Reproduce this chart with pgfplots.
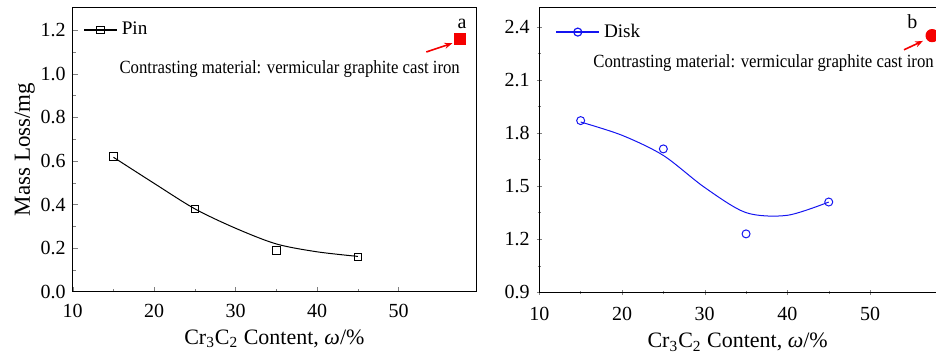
\documentclass[border=0pt]{standalone}
\usepackage{fontspec}
\setmainfont{Liberation Serif}
\newfontfamily\condensed[FakeStretch=0.9]{Liberation Serif}
\usepackage{pgfplots}
\pgfplotsset{compat=1.18}
\usetikzlibrary{arrows.meta}
\definecolor{myblue}{RGB}{20,20,240}
\definecolor{myred}{RGB}{245,0,0}
\pgfplotsset{
  common/.style={
    scale only axis,
    anchor=south west,
    xmin=10, 
    xtick={10,20,30,40,50},
    minor x tick num=1,
    minor y tick num=1,
    xtick pos=lower, ytick pos=left,
    tick align=inside,
    major tick length=2.5pt,
    minor tick length=1.5pt,
    /pgf/number format/assume math mode=true,
    tick label style={font=\fontsize{10}{12}\selectfont},
    xlabel={Cr\textsubscript{3}C\textsubscript{2} Content, \textit{ω}/\%},
    xticklabel style={yshift=-2.5pt},
    xlabel style={font=\fontsize{11}{13}\selectfont, yshift=0.5pt},
    legend style={draw=none, fill=none, inner sep=0pt, font=\fontsize{9.6}{11}\selectfont, legend cell align=left},
    every axis plot/.append style={line width=0.6pt},
  }
}
\begin{document}
\begin{tikzpicture}
\begin{axis}[common,
  at={(36.35pt,33.15pt)}, width=201.65pt, height=142.2pt,
  xmax=59.5, ymin=0, ymax=1.305,
  ytick={0,0.2,0.4,0.6,0.8,1.0,1.2},
  yticklabel style={/pgf/number format/.cd,fixed,fixed zerofill,precision=1},
  ylabel={Mass Loss/mg},
  ylabel style={font=\fontsize{11.5}{13}\selectfont, yshift=-4pt},
  legend style={at={(0.026,0.92)}, anchor=west},
  legend image code/.code={\draw[mark repeat=2,mark phase=2,#1] plot coordinates {(0cm,0cm) (0.29cm,0cm) (0.58cm,0cm)};},
]
\addlegendimage{black, line width=0.6pt, mark=square, mark size=1.9pt, mark options={solid, fill=white}}
\addlegendentry{Pin}
\addplot[black, line width=0.5pt, smooth, forget plot] coordinates {
(15,0.617) (20,0.497) (25,0.380) (30,0.291) (35,0.219) (40,0.183) (45,0.162)};
\addplot[only marks, black, mark=square, mark size=1.9pt, line width=0.5pt, forget plot] coordinates {
(15,0.62) (25,0.38) (35,0.19) (45,0.16)};
\addplot[only marks, myred, mark=square*, mark size=2.8pt, forget plot] coordinates {(57.5,1.16)};
\draw[myred, line width=0.8pt, -{Stealth[length=4pt,width=3pt]}] (axis cs:53.4,1.10) -- (axis cs:56.6,1.14);
\node[font=\fontsize{10}{12}\selectfont] at (axis cs:57.8,1.23) {a};
\node[anchor=west, inner sep=0pt, font=\condensed\fontsize{9.3}{11}\selectfont] at (axis cs:15.7,1.02) {Contrasting material: vermicular graphite cast iron};
\end{axis}

\begin{axis}[common,
  at={(269.65pt,32.85pt)}, width=198.35pt, height=142.5pt,
  xmax=57.97, ymin=0.9, ymax=2.51,
  ytick={0.9,1.2,1.5,1.8,2.1,2.4},
  yticklabel style={/pgf/number format/.cd,fixed,fixed zerofill,precision=1},
  axis x line=bottom, axis y line=left,
  axis line style={-},
  legend style={at={(0.04,0.913)}, anchor=west},
  legend image code/.code={\draw[mark repeat=2,mark phase=2,#1] plot coordinates {(0cm,0cm) (0.38cm,0cm) (0.76cm,0cm)};},
]
\addlegendimage{myblue, line width=0.6pt, mark=o, mark size=2pt, mark options={solid}}
\addlegendentry{Disk}
\addplot[myblue, line width=0.5pt, smooth, forget plot] coordinates {
(15,1.862) (20,1.787) (25,1.673) (30,1.492) (35,1.350) (40,1.335) (45,1.41)};
\addplot[only marks, myblue, mark=o, mark size=2pt, line width=0.5pt, forget plot] coordinates {
(15,1.87) (25,1.71) (35,1.23) (45,1.41)};
\addplot[only marks, myred, mark=*, mark size=3pt, forget plot] coordinates {(57.5,2.35)};
\draw[myred, line width=0.8pt, -{Stealth[length=4pt,width=3pt]}] (axis cs:54.1,2.27) -- (axis cs:56.4,2.32);
\node[font=\fontsize{10}{12}\selectfont] at (axis cs:55.1,2.43) {b};
\node[anchor=west, inner sep=0pt, font=\condensed\fontsize{9.3}{11}\selectfont] at (axis cs:16.5,2.196) {Contrasting material: vermicular graphite cast iron};
\draw[line width=0.4pt] (rel axis cs:0,1) -- (rel axis cs:1,1);
\end{axis}
\pgfresetboundingbox
\useasboundingbox (0,0) rectangle (468pt,179pt);
\end{tikzpicture}
\end{document}
